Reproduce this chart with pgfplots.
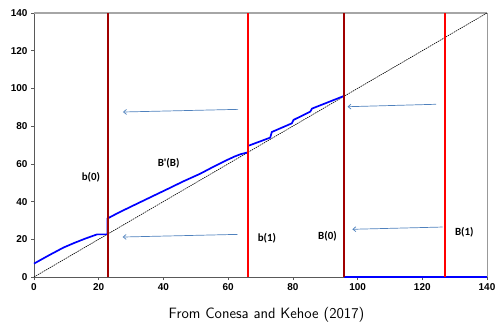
\documentclass[border=0pt]{standalone}
\usepackage{fontspec}
\setmainfont{Liberation Sans}
\newfontfamily\calibri{Carlito}
\usepackage{pgfplots}
\pgfplotsset{compat=1.18}
\usetikzlibrary{arrows.meta}
\definecolor{dred}{HTML}{A00000}
\definecolor{arrowblue}{HTML}{4F81BD}
\begin{document}
\begin{tikzpicture}
\useasboundingbox (-34bp,-45bp) rectangle (463bp,277bp);
\begin{axis}[
  at={(0,0)}, anchor=south west,
  scale only axis, width=453bp, height=264bp,
  xmin=0, xmax=140, ymin=0, ymax=140,
  xtick={0,20,...,140}, ytick={0,20,...,140},
  axis x line*=bottom, axis y line*=left,
  tick align=outside, major tick length=3bp,
  tick style={color=black!65, line width=0.6pt},
  axis line style={black!65, line width=0.9pt},
  ticklabel style={font=\bfseries\fontsize{10}{11}\selectfont},
  /pgf/number format/assume math mode=true,
  clip=false,
]
% frame top/right
\addplot[gray!70, line width=1.2pt, forget plot] coordinates {(0,140) (140,140)};
\addplot[gray!80, line width=0.6pt, forget plot] coordinates {(140,140) (140,0)};
% diagonal
\addplot[black, line width=0.6pt, dash pattern=on 1.5pt off 0.8pt] coordinates {(0,0) (140,140)};
% policy function
\addplot[blue, line width=1.7pt] coordinates {
 (0,7.1) (4.5,11.4) (9.1,15.6) (12.5,18.1) (15.9,20.4) (19.5,22.6) (22.7,22.6) (22.7,31.0)
 (26,34.0) (30.8,38.0) (36,42.3) (41.1,46.5) (46,50.6) (51.4,54.8) (55.5,58.5) (59.6,62.0)
 (62,63.9) (63.8,65.1) (66.1,66.1) (66.1,69.5)
 (73.0,73.9) (73.5,76.9) (79.7,81.5) (80.2,83.3) (85.4,87.7) (85.9,89.3) (95.8,96.0)};
\addplot[blue, line width=1.7pt] coordinates {(95.8,0) (140,0)};
% thresholds
\addplot[color=dred, line width=1.5pt] coordinates {(22.8,0) (22.8,140)};
\addplot[color=dred, line width=1.5pt] coordinates {(95.8,0) (95.8,140)};
\addplot[color=red, line width=1.5pt] coordinates {(66.1,0) (66.1,140)};
\addplot[color=red, line width=1.5pt] coordinates {(127.0,0) (127.0,140)};
% arrows
\addplot[arrowblue, line width=0.7pt, -{Straight Barb[length=3pt,width=5pt]}] coordinates {(63.1,88.9) (27.5,87.5)};
\addplot[arrowblue, line width=0.7pt, -{Straight Barb[length=3pt,width=5pt]}] coordinates {(62.9,22.6) (27.4,21.2)};
\addplot[arrowblue, line width=0.7pt, -{Straight Barb[length=3pt,width=5pt]}] coordinates {(124.3,91.6) (96.9,90.3)};
\addplot[arrowblue, line width=0.7pt, -{Straight Barb[length=3pt,width=5pt]}] coordinates {(126.3,26.5) (98.4,25.3)};
% labels
\node[font=\calibri\bfseries\fontsize{11}{12}\selectfont] at (axis cs:17.6,53.0) {b(0)};
\node[font=\calibri\bfseries\fontsize{11}{12}\selectfont] at (axis cs:41.6,60.1) {B'(B)};
\node[font=\calibri\bfseries\fontsize{11}{12}\selectfont] at (axis cs:72.0,20.5) {b(1)};
\node[font=\calibri\bfseries\fontsize{11}{12}\selectfont] at (axis cs:90.7,21.7) {B(0)};
\node[font=\calibri\bfseries\fontsize{11}{12}\selectfont] at (axis cs:133.0,23.5) {B(1)};
\end{axis}
\node[anchor=base, font=\sffamily\fontsize{15}{17}\selectfont] at (232.5bp,-41bp) {From Conesa and Kehoe (2017)};
\end{tikzpicture}
\end{document}
